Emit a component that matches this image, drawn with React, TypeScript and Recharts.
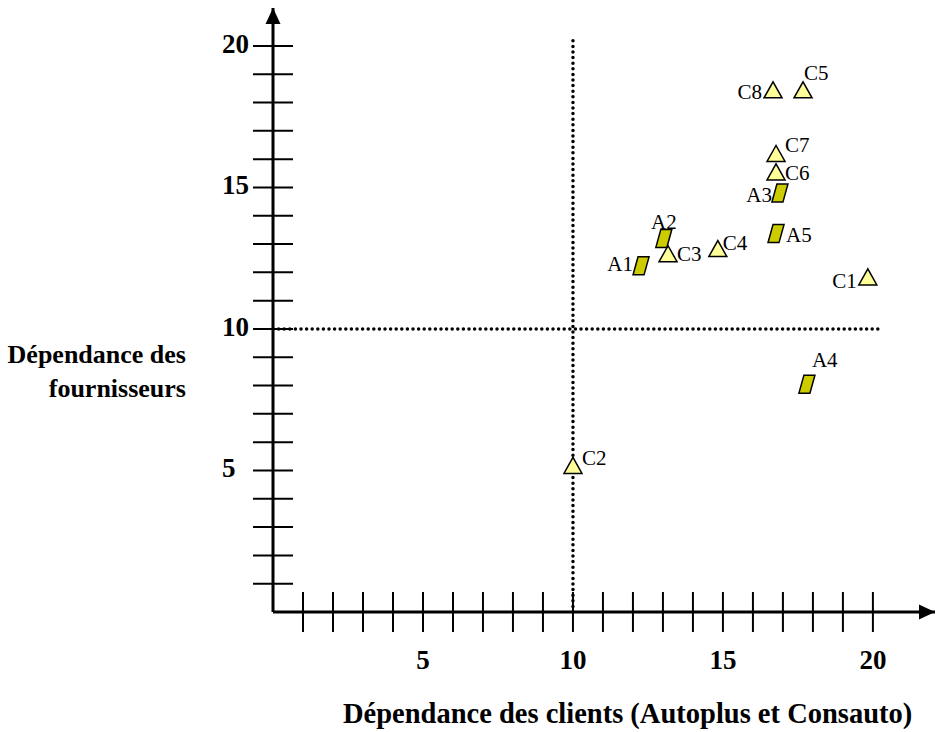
import { ScatterChart, Scatter, XAxis, YAxis, ReferenceLine, ReferenceDot } from 'recharts';

// points "A" (parallelograms)
const aNames = ['A1', 'A2', 'A3', 'A4', 'A5'];
const aX = [12.27, 13.03, 16.9, 17.8, 16.77];
const aY = [12.23, 13.2, 14.8, 8.05, 13.37];

// points "C" (triangles)
const cNames = ['C1', 'C2', 'C3', 'C4', 'C5', 'C6', 'C7', 'C8'];
const cX = [19.83, 10.0, 13.17, 14.83, 17.67, 16.77, 16.77, 16.67];
const cY = [11.84, 5.18, 12.66, 12.84, 18.45, 15.55, 16.2, 18.45];

const xTicks = [1, 2, 3, 4, 5, 6, 7, 8, 9, 10, 11, 12, 13, 14, 15, 16, 17, 18, 19, 20];
const yTicks = [1, 2, 3, 4, 5, 6, 7, 8, 9, 10, 11, 12, 13, 14, 15, 16, 17, 18, 19, 20];
const labeledTicks = [5, 10, 15, 20];

const xMax = 22.07;
const yMax = 21.34;
const splitX = 10;
const splitY = 10;
const splitXEnd = 20.33;
const splitYEnd = 20.28;

const aData = aNames.map((name, i) => ({ name, x: aX[i], y: aY[i] }));
const cData = cNames.map((name, i) => ({ name, x: cX[i], y: cY[i] }));

const FONT = '"Liberation Serif", "Times New Roman", serif';

// where each point's name sits relative to its marker: dx, dy, anchor
const labelPlace: Record<string, [number, number, 'start' | 'middle' | 'end']> = {
  A1: [-8, -2, 'end'],
  A2: [0, -16, 'middle'],
  A3: [-8, 2, 'end'],
  A4: [5, -24, 'start'],
  A5: [10, 1, 'start'],
  C1: [-11, 4, 'end'],
  C2: [9, -7, 'start'],
  C3: [9, 0, 'start'],
  C4: [5, -6, 'start'],
  C5: [1, -17, 'start'],
  C6: [9, 1, 'start'],
  C7: [9, -8, 'start'],
  C8: [-11, 2, 'end'],
};

function pointLabel(name: string, cx: number, cy: number) {
  const [dx, dy, anchor] = labelPlace[name] || [9, 0, 'start'];
  return (
    <text x={cx + dx} y={cy + dy + 7} textAnchor={anchor} fontFamily={FONT} fontSize={21} fill="#000">
      {name}
    </text>
  );
}

function TriangleMark(props: any) {
  const { cx, cy, payload } = props;
  const pts = `${cx - 9},${cy + 8} ${cx + 9},${cy + 8} ${cx},${cy - 8}`;
  return (
    <g>
      <polygon points={pts} fill="#FFFF99" stroke="#000" strokeWidth={1.5} />
      {pointLabel(payload.name, cx, cy)}
    </g>
  );
}

function ParaMark(props: any) {
  const { cx, cy, payload } = props;
  const pts = `${cx - 8},${cy + 9} ${cx + 3},${cy + 9} ${cx + 8},${cy - 9} ${cx - 3},${cy - 9}`;
  return (
    <g>
      <polygon points={pts} fill="#CCCC00" stroke="#000" strokeWidth={1.5} />
      {pointLabel(payload.name, cx, cy)}
    </g>
  );
}

function XTick(props: any) {
  const { x, y, payload } = props;
  const v = payload.value;
  return (
    <g>
      <line x1={x} x2={x} y1={y - 20} y2={y + 20} stroke="#000" strokeWidth={2} />
      {labeledTicks.includes(v) && (
        <text x={x} y={y + 57} textAnchor="middle" fontFamily={FONT} fontWeight="bold" fontSize={27} fill="#000">
          {v}
        </text>
      )}
    </g>
  );
}

function YTick(props: any) {
  const { x, y, payload } = props;
  const v = payload.value;
  return (
    <g>
      <line x1={x - 20} x2={x + 20} y1={y} y2={y} stroke="#000" strokeWidth={2} />
      {labeledTicks.includes(v) && (
        <text x={x - 51} y={y + 7} textAnchor="start" fontFamily={FONT} fontWeight="bold" fontSize={27} fill="#000">
          {v}
        </text>
      )}
    </g>
  );
}

const arrowRight = (p: any) => (
  <polygon points={`${p.cx},${p.cy} ${p.cx - 16},${p.cy - 7.5} ${p.cx - 16},${p.cy + 7.5}`} fill="#000" />
);
const arrowUp = (p: any) => (
  <polygon points={`${p.cx},${p.cy} ${p.cx - 7.5},${p.cy + 16} ${p.cx + 7.5},${p.cy + 16}`} fill="#000" />
);

export default function App() {
  return (
    <div style={{ position: 'absolute', left: 0, top: 0, width: 936, height: 732, background: '#fff' }}>
      <ScatterChart width={936} height={732} margin={{ top: 8, right: 1, bottom: 60, left: 213 }}>
        <XAxis
          type="number"
          dataKey="x"
          domain={[0, xMax]}
          ticks={xTicks}
          interval={0}
          height={60}
          tickSize={0}
          tickMargin={0}
          tickLine={false}
          axisLine={{ stroke: '#000', strokeWidth: 3 }}
          tick={<XTick />}
          allowDataOverflow
        />
        <YAxis
          type="number"
          dataKey="y"
          domain={[0, yMax]}
          ticks={yTicks}
          interval={0}
          width={60}
          tickSize={0}
          tickMargin={0}
          tickLine={false}
          axisLine={{ stroke: '#000', strokeWidth: 3 }}
          tick={<YTick />}
          allowDataOverflow
        />
        <ReferenceLine
          segment={[{ x: splitX, y: 0 }, { x: splitX, y: splitYEnd }]}
          stroke="#000"
          strokeWidth={3.5}
          strokeDasharray="0 5.6"
          strokeLinecap="round"
          ifOverflow="visible"
        />
        <ReferenceLine
          segment={[{ x: 0, y: splitY }, { x: splitXEnd, y: splitY }]}
          stroke="#000"
          strokeWidth={3.5}
          strokeDasharray="0 5.6"
          strokeLinecap="round"
          ifOverflow="visible"
        />
        <ReferenceDot x={xMax} y={0} ifOverflow="visible" shape={arrowRight} />
        <ReferenceDot x={0} y={yMax} ifOverflow="visible" shape={arrowUp} />
        <Scatter name="C" data={cData} shape={<TriangleMark />} isAnimationActive={false} />
        <Scatter name="A" data={aData} shape={<ParaMark />} isAnimationActive={false} />
      </ScatterChart>
      <div
        style={{
          position: 'absolute',
          left: 0,
          top: 338,
          width: 186,
          textAlign: 'right',
          fontFamily: FONT,
          fontWeight: 'bold',
          fontSize: 26,
          lineHeight: '34px',
        }}
      >
        Dépendance des
        <br />
        fournisseurs
      </div>
      <div
        style={{
          position: 'absolute',
          left: 343,
          top: 697,
          fontFamily: FONT,
          fontWeight: 'bold',
          fontSize: 28.5,
          lineHeight: '34px',
          whiteSpace: 'nowrap',
        }}
      >
        Dépendance des clients (Autoplus et Consauto)
      </div>
    </div>
  );
}
